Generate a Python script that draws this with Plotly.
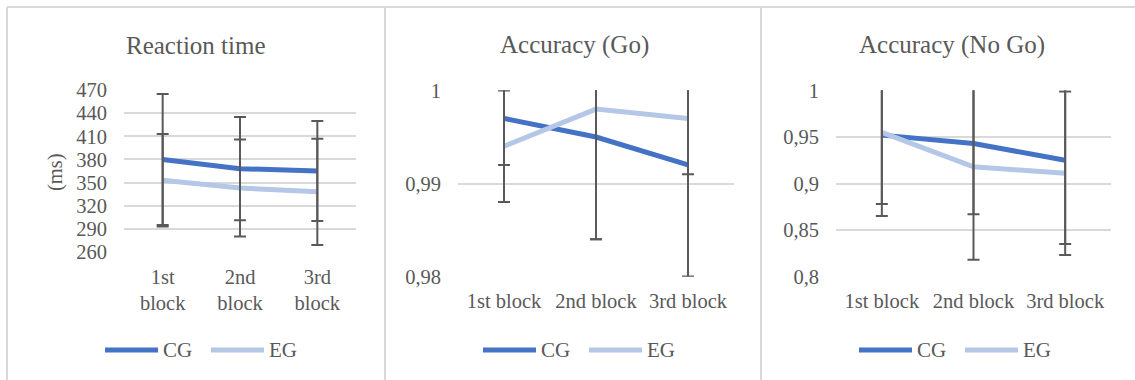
import plotly.graph_objects as go

W, H = 1135, 380

# ---- data -------------------------------------------------------------
blocks = ["1st block", "2nd block", "3rd block"]
groups = ["CG", "EG"]
titles = ["Reaction time", "Accuracy (Go)", "Accuracy (No Go)"]

rt_cg = [380, 368, 365]
rt_eg = [353, 343, 338]
rt_cg_err = [85, 67, 65]
rt_eg_err = [60, 63, 69]

go_cg = [0.997, 0.995, 0.992]
go_eg = [0.994, 0.998, 0.997]
go_cg_err = [0.005, 0.011, 0.012]
go_eg_err = [0.006, 0.014, 0.006]

nogo_cg = [0.952, 0.943, 0.925]
nogo_eg = [0.955, 0.918, 0.911]
nogo_cg_err = [0.074, 0.076, 0.090]
nogo_eg_err = [0.090, 0.100, 0.088]

rt_ticks = [260, 290, 320, 350, 380, 410, 440, 470]
rt_tick_text = ["260", "290", "320", "350", "380", "410", "440", "470"]
go_ticks = [0.98, 0.99, 1.0]
go_tick_text = ["0,98", "0,99", "1"]
nogo_ticks = [0.80, 0.85, 0.90, 0.95, 1.0]
nogo_tick_text = ["0,8", "0,85", "0,9", "0,95", "1"]

# ---- styling ----------------------------------------------------------
FONT = "Liberation Serif"
TXT = "#595959"
GRID = "#D9D9D9"
ERR = "#595959"
COLORS = {"CG": "#4472C4", "EG": "#B4C7E7"}


def px_x(v):
    return v / W


def px_y(v):
    return 1 - v / H


panels = [
    dict(cg=rt_cg, eg=rt_eg, cge=rt_cg_err, ege=rt_eg_err,
         ticks=rt_ticks, ticktext=rt_tick_text, rng=[260, 470],
         xdom=(124, 356), ydom=(252, 90), left=7,
         xtext=[b.replace(" ", "<br>") for b in blocks]),
    dict(cg=go_cg, eg=go_eg, cge=go_cg_err, ege=go_eg_err,
         ticks=go_ticks, ticktext=go_tick_text, rng=[0.98, 1.0],
         xdom=(458, 734), ydom=(276.7, 90.3), left=385,
         xtext=blocks),
    dict(cg=nogo_cg, eg=nogo_eg, cge=nogo_cg_err, ege=nogo_eg_err,
         ticks=nogo_ticks, ticktext=nogo_tick_text, rng=[0.8, 1.0],
         xdom=(836, 1111), ydom=(276.7, 90.3), left=761,
         xtext=blocks),
]
panel_centers = [196, 574, 952]

fig = go.Figure()
layout = dict(
    template="none",
    width=W, height=H,
    margin=dict(l=0, r=0, t=0, b=0, pad=0, autoexpand=False),
    paper_bgcolor="white", plot_bgcolor="white",
    showlegend=False,
    font=dict(family=FONT, color=TXT, size=20),
    shapes=[], annotations=[],
)

for i, p in enumerate(panels):
    n = "" if i == 0 else str(i + 1)
    xa, ya = "x" + n, "y" + n
    series = [("CG", p["cg"], p["cge"]), ("EG", p["eg"], p["ege"])]
    # lines
    for name, vals, _ in series:
        fig.add_trace(go.Scatter(
            x=blocks, y=vals, name=name, mode="lines",
            line=dict(color=COLORS[name], width=5),
            xaxis=xa, yaxis=ya, hoverinfo="skip"))
    # error bars on top of lines
    for name, vals, err in series:
        fig.add_trace(go.Scatter(
            x=blocks, y=vals, mode="markers",
            marker=dict(size=0, opacity=0),
            error_y=dict(type="data", array=err, visible=True,
                         color=ERR, thickness=2, width=6),
            xaxis=xa, yaxis=ya, hoverinfo="skip"))

    span = p["rng"][1] - p["rng"][0]
    layout["xaxis" + n] = dict(
        domain=[px_x(p["xdom"][0]), px_x(p["xdom"][1])],
        anchor=ya, type="category", range=[-0.5, 2.5],
        tickmode="array", tickvals=blocks, ticktext=p["xtext"],
        showgrid=False, zeroline=False, showline=False, ticks="",
        automargin=False, ticklabelstandoff=10,
        tickfont=dict(family=FONT, size=20.5, color=TXT),
    )
    layout["yaxis" + n] = dict(
        domain=[px_y(p["ydom"][0]), px_y(p["ydom"][1])],
        anchor=xa,
        range=[p["rng"][0] - span * 0.001, p["rng"][1] + span * 0.001],
        tickmode="array", tickvals=p["ticks"], ticktext=p["ticktext"],
        showgrid=True, gridcolor=GRID, gridwidth=1.5,
        zeroline=False, showline=False, ticks="",
        automargin=False, ticklabelstandoff=16,
        tickfont=dict(family=FONT, size=20.5, color=TXT),
    )

    # panel title
    layout["annotations"].append(dict(
        text=titles[i], xref="paper", yref="paper",
        x=px_x(panel_centers[i]), y=px_y(45),
        xanchor="center", yanchor="middle", showarrow=False,
        font=dict(family=FONT, size=25, color=TXT)))

    # legend
    left = p["left"]
    for name, off in (("CG", 98), ("EG", 204)):
        x0 = left + off
        x1 = x0 + 53
        layout["shapes"].append(dict(
            type="line", xref="paper", yref="paper",
            x0=px_x(x0), x1=px_x(x1), y0=px_y(350), y1=px_y(350),
            line=dict(color=COLORS[name], width=5)))
        layout["annotations"].append(dict(
            text=name, xref="paper", yref="paper",
            x=px_x(x1 + 3), y=px_y(350),
            xanchor="left", yanchor="middle", showarrow=False,
            font=dict(family=FONT, size=21, color=TXT)))

# y-axis title of the reaction-time panel
layout["annotations"].append(dict(
    text="(ms)", xref="paper", yref="paper",
    x=px_x(55), y=px_y(172), textangle=-90,
    xanchor="center", yanchor="middle", showarrow=False,
    font=dict(family=FONT, size=20.5, color=TXT)))

# chart frames
for xb in (7, 385, 761):
    layout["shapes"].append(dict(
        type="line", xref="paper", yref="paper",
        x0=px_x(xb), x1=px_x(xb), y0=0, y1=px_y(7),
        line=dict(color=GRID, width=2)))
layout["shapes"].append(dict(
    type="line", xref="paper", yref="paper",
    x0=px_x(7), x1=1, y0=px_y(7), y1=px_y(7),
    line=dict(color=GRID, width=2)))

fig.update_layout(**layout)
fig.write_html("out.html")
